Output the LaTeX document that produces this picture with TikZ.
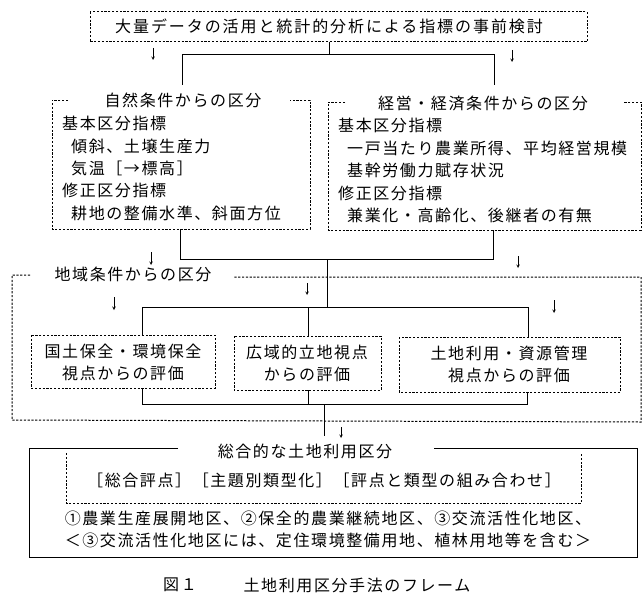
\documentclass[tikz,border=0pt]{standalone}
\usepackage{fontspec}
\setmainfont{Noto Sans CJK JP}
\begin{document}
\begin{tikzpicture}[x=1pt,y=-1pt,
  dbox/.style={draw,line width=1pt,dash pattern=on 2.2pt off 1.6pt},
  ln/.style={draw,line width=1pt},
  txt/.style={font=\fontsize{16}{18}\selectfont\addfontfeature{LetterSpace=10},inner sep=0pt},
  sarr/.style={->,>=stealth,line width=0.6pt}]
\useasboundingbox (0,0) rectangle (642,594);
% top box
\draw[dbox] (90,12) rectangle (587,42);
\node[txt,font=\fontsize{16}{18}\selectfont\addfontfeature{LetterSpace=12}] (top) at (329,26) {大量データの活用と統計的分析による指標の事前検討};
\coordinate (t0) at (329,42);
\coordinate (tl) at (182,85); \coordinate (tr) at (494,85);
\draw[ln] (t0) -- (329,55) -| (tl);
\draw[ln] (329,55) -| (tr);
\draw[sarr] (153,48) -- (153,60);
\draw[sarr] (512,50) -- (512,62);
% left box
\draw[dbox] (68,100) -- (52,100) -- (52,229) -- (310,229) -- (310,100) -- (290,100);
\node[txt] (lt) at (183,100) {自然条件からの区分};
\node[txt,anchor=west] (l1) at (62,123) {基本区分指標};
\node[txt,anchor=west] (l2) at (71,146) {傾斜、土壌生産力};
\node[txt,anchor=west] (l3) at (71,168) {気温［→標高］};
\node[txt,anchor=west] (l4) at (62,190) {修正区分指標};
\node[txt,anchor=west] (l5) at (71,213) {耕地の整備水準、斜面方位};
% right box
\draw[dbox] (345,102) -- (328,102) -- (328,230) -- (641,230) -- (641,102) -- (623,102);
\node[txt] (rt) at (483,103) {経営・経済条件からの区分};
\node[txt,anchor=west] (r1) at (338,125) {基本区分指標};
\node[txt,anchor=west] (r2) at (347,148) {一戸当たり農業所得、平均経営規模};
\node[txt,anchor=west] (r3) at (347,170) {基幹労働力賦存状況};
\node[txt,anchor=west] (r4) at (338,193) {修正区分指標};
\node[txt,anchor=west] (r5) at (347,215) {兼業化・高齢化、後継者の有無};
% merge
\draw[ln] (180,229) -- (180,259) -- (493,259) -- (493,230);
\draw[sarr] (151,252) -- (151,265);
\draw[sarr] (518,256) -- (518,268);
\draw[sarr] (307,283) -- (307,295);
% region box
\draw[dbox] (30,275) -- (12,275) -- (12,420) -- (641,422) -- (641,277) -- (233,277);
\node[txt] (gt) at (133,274) {地域条件からの区分};
\draw[ln] (327,259) -- (327,307);
\draw[ln] (142,335) -- (142,307) -- (528,307) -- (528,337);
\draw[ln] (308,307) -- (308,336);
\draw[sarr] (114,297) -- (114,310);
\draw[sarr] (554,300) -- (554,313);
% three boxes
\draw[dbox] (31,335) rectangle (215,388);
\node[txt,align=center] (A) at (123,362) {国土保全・環境保全\\[4pt]視点からの評価};
\draw[dbox] (234,336) rectangle (381,390);
\node[txt,align=center] (B) at (307,363) {広域的立地視点\\[4pt]からの評価};
\draw[dbox] (399,337) rectangle (620,392);
\node[txt,align=center] (C) at (509,364) {土地利用・資源管理\\[4pt]視点からの評価};
\draw[ln] (142,388) -- (142,404) -- (527,404) -- (527,392);
\draw[ln] (308,390) -- (308,404);
\draw[ln] (324,404) -- (324,436);
\draw[sarr] (341,427) -- (341,438);
% final box
\draw[ln] (178,448) -- (29,448) -- (29,557) -- (637,557) -- (637,448) -- (434,448);
\node[txt] (ft) at (305,451) {総合的な土地利用区分};
\draw[dbox] (66,453) -- (66,503) -- (581,503) -- (581,453);
\node[txt] (f1) at (324,480) {［総合評点］［主題別類型化］［評点と類型の組み合わせ］};
\node[txt] (f2) at (328,518) {①農業生産展開地区、②保全的農業継続地区、③交流活性化地区、};
\node[txt] (f3) at (328,540) {＜③交流活性化地区には、定住環境整備用地、植林用地等を含む＞};
% caption
\node[txt] (cap1) at (180,585) {図１};
\node[txt] (cap2) at (357,585) {土地利用区分手法のフレーム};
\end{tikzpicture}
\end{document}
